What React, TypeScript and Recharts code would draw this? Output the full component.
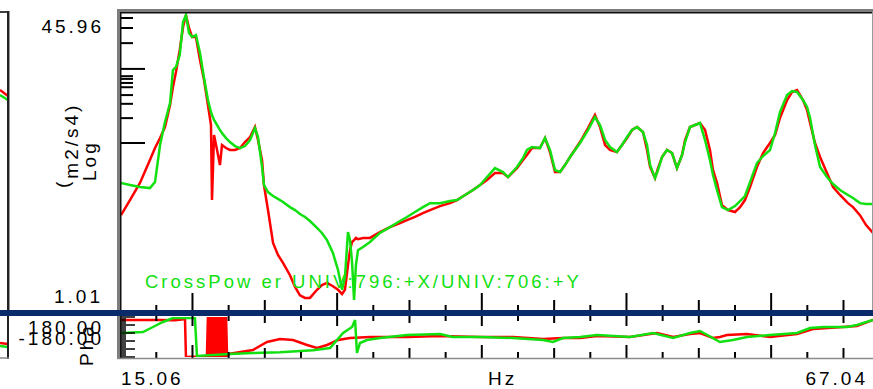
import React from 'react'
import { LineChart, Line, XAxis, YAxis } from 'recharts'

const FONT = '"Liberation Sans", Arial, sans-serif'
const RED = '#ff0000'
const GREEN = '#11e011'

// Frequency points (Hz) for the magnitude traces
const magHz = [
  15.06, 15.68, 16.37, 17.06, 17.41, 17.76, 18.1, 18.45, 18.65, 18.86,
  19.12, 19.35, 19.55, 19.76, 19.97, 20.24, 20.52, 20.8, 21.07, 21.28,
  21.35, 21.49, 21.7, 21.9, 22.04, 22.32, 22.59, 22.94, 23.29, 23.63,
  23.98, 24.32, 24.53, 24.81, 24.94, 25.22, 25.57, 25.91, 26.26, 26.74,
  27.09, 27.43, 27.78, 28.12, 28.61, 28.95, 29.3, 29.71, 30.06, 30.34,
  30.54, 30.75, 30.89, 31.03, 31.17, 31.3, 31.44, 31.79, 32.27, 32.96,
  33.65, 34.35, 34.83, 35.38, 35.93, 36.42, 37.11, 37.8, 38.29, 38.84,
  39.39, 39.88, 40.36, 40.91, 41.46, 41.81, 42.43, 42.85, 43.12, 43.47,
  44.02, 44.37, 44.71, 45.06, 45.41, 45.75, 46.1, 46.79, 47.34, 47.82,
  48.17, 48.52, 48.86, 49.34, 49.69, 50.04, 50.38, 50.73, 51.14, 51.42,
  51.63, 51.97, 52.18, 52.46, 52.8, 53.15, 53.49, 53.84, 54.05, 54.39,
  54.74, 55.08, 55.43, 55.77, 55.98, 56.26, 56.6, 57.02, 57.5, 57.85,
  58.19, 58.54, 59.02, 59.44, 59.92, 60.27, 60.61, 61.1, 61.44, 61.79,
  62.2, 62.48, 62.69, 63.03, 63.38, 63.86, 64.28, 64.76, 65.31, 65.66,
  66.14, 66.56, 67.04,
]

// CrossPower magnitude (m2/s4)
const redMag = [
  3.42, 4.15, 5.17, 6.94, 8.1, 9.21, 10.61, 14.08, 17.75, 21.53,
  28.56, 38.39, 44.79, 37.89, 33.76, 33.76, 25.12, 19.42, 14.08, 10.89,
  4.15, 9.58, 7.9, 6.51, 8.42, 8.1, 7.9, 7.9, 8.1, 8.75,
  9.33, 10.61, 8.98, 6.94, 5.04, 3.65, 2.39, 2.05, 1.85, 1.58,
  1.36, 1.22, 1.18, 1.18, 1.31, 1.39, 1.43, 1.37, 1.31, 1.24,
  1.31, 1.8, 2.18, 2.42, 2.48, 2.55, 2.51, 2.55, 2.55, 2.75,
  2.93, 3.09, 3.21, 3.34, 3.51, 3.65, 3.84, 3.99, 4.15, 4.43,
  4.72, 5.04, 5.37, 5.87, 5.87, 5.58, 6.26, 6.94, 7.4, 8.1,
  8.1, 9.21, 7.7, 5.95, 5.95, 6.51, 7.22, 8.75, 10.47, 12.39,
  10.61, 8.42, 7.9, 7.7, 8.42, 9.21, 10.21, 10.61, 9.95, 7.9,
  6.35, 5.51, 6.26, 7.22, 7.9, 7.6, 6.26, 7.4, 8.98, 10.61,
  10.89, 11.17, 10.21, 7.9, 6.11, 5.17, 3.89, 3.65, 3.56, 3.79,
  4.15, 4.91, 6.35, 7.6, 8.64, 9.58, 11.92, 15.02, 16.65, 17.08,
  15.02, 13.21, 11.17, 8.64, 7.22, 5.87, 4.91, 4.43, 3.99, 3.79,
  3.42, 3.01, 2.72,
]

const greenMag = [
  5.17, 5.04, 4.91, 4.84, 5.23, 8.42, 11.32, 14.45, 22.09, 22.96,
  26.78, 40.94, 44.79, 35.54, 33.76, 34.64, 27.48, 19.93, 15.02, 12.87,
  12.39, 11.62, 10.89, 10.21, 9.83, 9.21, 8.75, 8.31, 8.1, 8.31,
  8.98, 10.47, 9.33, 6.35, 5.04, 4.6, 4.37, 4.21, 4.05, 3.79,
  3.65, 3.47, 3.34, 3.17, 2.9, 2.72, 2.48, 2.1, 1.69, 1.31,
  1.54, 2.75, 2.48, 1.87, 1.15, 1.8, 2.18, 2.27, 2.42, 2.72,
  2.93, 3.17, 3.34, 3.56, 3.79, 3.99, 3.99, 4.1, 4.15, 4.43,
  4.72, 5.04, 5.58, 6.26, 5.95, 5.58, 6.35, 7.12, 7.9, 8.21,
  8.1, 9.21, 7.9, 6.11, 5.95, 6.51, 7.22, 8.64, 10.21, 12.07,
  10.89, 8.98, 8.21, 7.7, 8.42, 9.33, 10.21, 10.61, 9.95, 8.42,
  6.51, 5.51, 6.11, 7.22, 7.9, 7.6, 6.26, 7.4, 8.75, 10.61,
  10.89, 11.17, 8.98, 6.94, 5.73, 4.72, 3.79, 3.65, 3.84, 4.1,
  4.37, 5.23, 6.68, 7.31, 7.9, 9.83, 12.87, 16.01, 16.86, 16.65,
  15.02, 13.73, 11.92, 8.42, 6.35, 5.58, 5.1, 4.72, 4.43, 4.26,
  3.99, 3.94, 3.94,
]

// Phase (deg)
const redPhaseHz = [
  15.06, 17.76, 18.79, 19.35, 19.48, 19.55, 20.52, 21.0,
  21.07, 21.14, 21.21, 21.28, 21.35, 21.42, 21.49, 21.56, 21.63, 21.7,
  21.77, 21.84, 21.9, 21.97, 22.04, 22.11, 22.18, 22.25, 22.32, 22.39,
  22.59, 24.18, 25.15, 26.05, 26.95, 27.92, 28.61, 29.3, 30.06, 30.89,
  32.27, 34.83, 37.11, 39.88, 42.16, 44.23, 45.61, 46.79, 47.96, 50.24,
  52.11, 53.22, 54.39, 55.08, 55.98, 56.46, 56.95, 58.33, 59.92, 61.79,
  62.89, 64.97, 65.93, 67.04,
]
const redPhase = [
  153, 153, 150, 160, 180, -180, -175, -170,
  180, -180, 180, -180, 180, -180, 180, -180, 180, -180,
  180, -180, 180, -180, 180, -180, 180, -180, 180, -170,
  -150, -117, -45, -18, -27, -72, -99, -72, -27, -9,
  0, 0, 9, 0, 0, -18, -9, -9, 9, 0,
  36, 0, 27, 36, -9, 0, 18, 27, 0, 27,
  72, 90, 99, 153,
]

const greenPhaseHz = [
  15.06, 16.58, 17.27, 17.96, 18.65, 20.17, 20.31, 22.59, 24.18, 26.05,
  28.33, 29.51, 30.41, 31.03, 31.24, 31.37, 31.58, 32.06, 32.96, 34.83,
  37.11, 37.99, 39.88, 42.16, 44.23, 44.92, 45.61, 46.79, 47.96, 50.24,
  51.84, 53.22, 54.39, 55.08, 56.46, 57.36, 58.33, 59.92, 61.79, 62.69,
  63.59, 65.24, 65.93, 67.04,
]
const greenPhase = [
  36, 45, 90, 135, 171, 171, -170, -153, -144, -138,
  -120, -99, 36, 90, 153, -144, -54, -27, -9, 18,
  27, 0, 0, -9, -27, -45, -9, 0, 18, 0,
  36, -9, 36, 54, -45, -27, 0, 18, 36, 81,
  90, 90, 108, 153,
]

// neighbouring display, only its right edge is visible
const edgeX = [0, 1]
const edgeRedMag = [17.08, 15.81]
const edgeGreenMag = [16.01, 15.02]
const edgeRedPhase = [-54, -63]
const edgeGreenPhase = [-81, -90]

// axis ticks
const hzTicks = [17.5, 20, 22.5, 25, 27.5, 30, 32.5, 35, 37.5, 40, 42.5, 45, 47.5, 50, 52.5, 55, 57.5, 60, 62.5, 65]
const hzEnds = [15.06, 67.04]
const magTicks = [45.96, 43.1, 37.9, 31.2, 22.4, 20.4, 19.7, 18.7, 17.7, 16.0, 14.3, 11.9, 8.64, 1.01]
const magLong = [22.4, 8.64]
const phaseTicks = [-180, -162, -144, -126, -108, -90, -72, -54, -36, -18, 0, 18, 36, 54, 72, 90, 108, 126, 144, 162, 180]

const rows = (xs: number[], ys: number[]) => xs.map((f, i) => ({ f, v: ys[i] }))

const txt = { fontFamily: FONT, fontSize: 19, letterSpacing: 3, fill: '#000' } as const

const MagXTick = ({ x, payload }: any) => {
  const v = payload.value
  const len = v % 10 === 0 ? 17 : v % 5 === 0 ? 10 : 5
  return <line x1={x} x2={x} y1={310 - len} y2={310} stroke="#000" strokeWidth={2} />
}

const MagYTick = ({ y, payload }: any) => {
  const v = payload.value
  if (v === 45.96) return <text x={104} y={y + 20} textAnchor="end" style={txt}>45.96</text>
  if (v === 1.01) return <text x={103} y={y - 7} textAnchor="end" style={txt}>1.01</text>
  const len = magLong.includes(v) ? 24 : 12
  return <line x1={121} x2={121 + len} y1={y} y2={y} stroke="#000" strokeWidth={2} />
}

const PhaseXTick = ({ x, payload }: any) => {
  const v = payload.value
  if (v === 15.06) return <text x={121} y={385} style={txt}>15.06</text>
  if (v === 67.04) return <text x={868} y={385} textAnchor="end" style={txt}>67.04</text>
  const major = v % 10 === 0
  const mid = v % 5 === 0
  const top = major ? 10 : mid ? 7 : 5
  const bot = major ? 13 : mid ? 10 : 6
  return (
    <g>
      <line x1={x} x2={x} y1={316} y2={316 + top} stroke="#000" strokeWidth={2} />
      <line x1={x} x2={x} y1={358 - bot} y2={358} stroke="#000" strokeWidth={2} />
    </g>
  )
}

const PhaseYTick = ({ y, payload }: any) => {
  const v = payload.value
  const len = (v + 180) % 72 === 0 ? 14 : 5
  return <line x1={121} x2={121 + len} y1={y} y2={y} stroke="#000" strokeWidth={1.5} />
}

const lineProps = { dataKey: 'v', dot: false, strokeWidth: 2.5, isAnimationActive: false } as const

function MagnitudePanel() {
  return (
    <LineChart width={873} height={389} margin={{ top: 13, right: 0, bottom: 49, left: 0 }}>
      <XAxis type="number" dataKey="f" domain={[15.06, 67.04]} ticks={hzTicks} interval={0}
        height={30} axisLine={false} tickLine={false} tick={(p: any) => <MagXTick {...p} />} allowDataOverflow />
      <YAxis type="number" scale="log" domain={[1.01, 45.96]} ticks={magTicks} interval={0}
        width={121} axisLine={false} tickLine={false} tick={(p: any) => <MagYTick {...p} />} allowDataOverflow />
      <Line data={rows(magHz, redMag)} stroke={RED} {...lineProps} />
      <Line data={rows(magHz, greenMag)} stroke={GREEN} {...lineProps} />
    </LineChart>
  )
}

function PhasePanel() {
  return (
    <LineChart width={873} height={389} margin={{ top: 317, right: 0, bottom: 2, left: 0 }}>
      <XAxis type="number" dataKey="f" domain={[15.06, 67.04]} ticks={[...hzEnds, ...hzTicks]} interval={0}
        height={30} axisLine={false} tickLine={false} tick={(p: any) => <PhaseXTick {...p} />} allowDataOverflow />
      <YAxis type="number" domain={[-180, 180]} ticks={phaseTicks} interval={0}
        width={121} axisLine={false} tickLine={false} tick={(p: any) => <PhaseYTick {...p} />} allowDataOverflow />
      <Line data={rows(redPhaseHz, redPhase)} stroke={RED} {...lineProps} />
      <Line data={rows(greenPhaseHz, greenPhase)} stroke={GREEN} {...lineProps} />
    </LineChart>
  )
}

function EdgePanels() {
  return (
    <>
      <div style={{ position: 'absolute', left: 0, top: 0 }}>
        <LineChart width={9} height={389} margin={{ top: 13, right: 1, bottom: 79, left: 0 }}>
          <XAxis type="number" dataKey="f" domain={[0, 1]} hide />
          <YAxis type="number" scale="log" domain={[1.01, 45.96]} hide />
          <Line data={rows(edgeX, edgeRedMag)} stroke={RED} {...lineProps} />
          <Line data={rows(edgeX, edgeGreenMag)} stroke={GREEN} {...lineProps} />
        </LineChart>
      </div>
      <div style={{ position: 'absolute', left: 0, top: 0 }}>
        <LineChart width={9} height={389} margin={{ top: 317, right: 1, bottom: 32, left: 0 }}>
          <XAxis type="number" dataKey="f" domain={[0, 1]} hide />
          <YAxis type="number" domain={[-180, 180]} hide />
          <Line data={rows(edgeX, edgeRedPhase)} stroke={RED} {...lineProps} />
          <Line data={rows(edgeX, edgeGreenPhase)} stroke={GREEN} {...lineProps} />
        </LineChart>
      </div>
    </>
  )
}

function Frame() {
  return (
    <svg width={873} height={389} style={{ position: 'absolute', left: 0, top: 0, pointerEvents: 'none' }}>
      {/* neighbouring display edge */}
      <line x1={0} x2={9} y1={12} y2={12} stroke="#000" strokeWidth={1.5} />
      <rect x={7} y={11} width={2} height={299} fill="#222" />
      <rect x={9} y={11} width={1} height={299} fill="#999" />
      <rect x={7} y={316} width={2} height={43} fill="#222" />
      <line x1={0} x2={9} y1={358} y2={358} stroke="#888" strokeWidth={1.5} />

      {/* main frame */}
      <rect x={117} y={9} width={756} height={3} fill="#7d7d7d" />
      <rect x={117} y={12} width={756} height={1.5} fill="#111" />
      <rect x={117} y={9} width={3} height={301} fill="#7d7d7d" />
      <rect x={120} y={12} width={1.5} height={298} fill="#111" />
      <line x1={872.5} x2={872.5} y1={12} y2={310} stroke="#9a9a9a" strokeWidth={1} />
      <rect x={117} y={316} width={3} height={43} fill="#7d7d7d" />
      <rect x={120} y={316} width={1.5} height={42} fill="#111" />
      <line x1={117} x2={873} y1={358.5} y2={358.5} stroke="#8a8a8a" strokeWidth={1.5} />

      {/* separator */}
      <rect x={0} y={310} width={873} height={6} fill="#0b2a6a" />

      {/* axis titles */}
      <text transform="translate(78,188) rotate(-90)" style={txt}>
        <tspan dy={-9}>(</tspan>
        <tspan dy={9}>m2/s4)</tspan>
      </text>
      <text transform="translate(96,181) rotate(-90)" style={txt}>Log</text>
      <text x={104} y={334} textAnchor="end" style={txt}>180.00</text>
      <text x={104} y={345} textAnchor="end" style={txt}>-180.00</text>
      <text transform="translate(93,366) rotate(-90)" style={txt}>Pha</text>
      <text x={488} y={385} style={txt}>Hz</text>

      {/* trace legend */}
      <text x={145} y={288} style={{ ...txt, fontSize: 18.5, fill: GREEN }}>
        CrossPow er UNIV:796:+X/UNIV:706:+Y
      </text>
    </svg>
  )
}

export default function App() {
  return (
    <div style={{ position: 'absolute', left: 0, top: 0, width: 873, height: 389, background: '#fff', overflow: 'hidden' }}>
      <div style={{ position: 'absolute', left: 0, top: 0 }}>
        <MagnitudePanel />
      </div>
      <div style={{ position: 'absolute', left: 0, top: 0 }}>
        <PhasePanel />
      </div>
      <EdgePanels />
      <Frame />
    </div>
  )
}
